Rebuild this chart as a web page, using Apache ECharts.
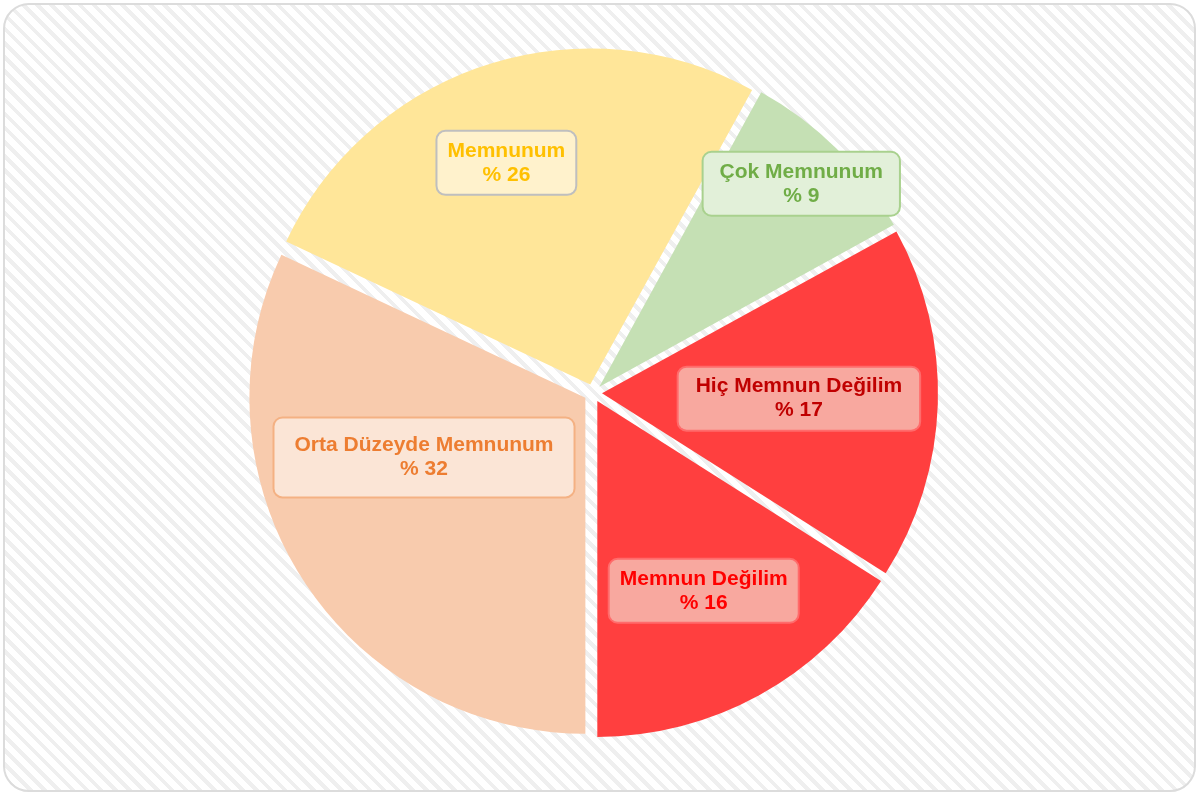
<!DOCTYPE html>
<html>
<head>
<meta charset="utf-8">
<script src="https://cdn.jsdelivr.net/npm/echarts@6/dist/echarts.min.js"></script>
<style>
html, body { margin: 0; padding: 0; background: #fff; }
#frame {
  position: absolute; left: 3px; top: 3px; width: 1189px; height: 785px;
  border: 2px solid #dcdcdc; border-radius: 26px;
  background: repeating-linear-gradient(45deg, #fff 0, #fff 6px, #efefef 6px, #efefef 10px);
}
#chart { position: absolute; left: 0; top: 0; width: 1199px; height: 795px; }
</style>
</head>
<body>
<div id="frame"></div>
<div id="chart"></div>
<script>
// chart data
var categories = ['Çok Memnunum', 'Hiç Memnun Değilim', 'Memnun Değilim', 'Orta Düzeyde Memnunum', 'Memnunum'];
var values = [9, 17, 16, 32, 26];

// styles, one entry per slice
var sliceColors = ['#c5e0b4', '#ff3f3f', '#ff3f3f', '#f8cbad', '#ffe699'];
var labelColors = ['#70ad47', '#c00000', '#ff0000', '#ed7d31', '#ffc000'];
var labelFills = ['#e2f0d9', '#f8a89f', '#f8a89f', '#fbe5d6', '#fff2cc'];
var labelBorders = ['#a9d18e', '#ff6b6b', '#ff6b6b', '#f4b183', '#bfbfbf'];
var labelPads = [[7, 16], [7, 17], [7, 10], [15, 20], [7, 10]];
var labelShift = [[81, -82], [26, 0], [24, 40], [-17, -32], [-31, -59]];

var dom = document.getElementById('chart');
var myChart = echarts.init(dom, null, {renderer: 'canvas'});

var data = [];
for (var i = 0; i < categories.length; i++) {
  data.push({
    name: categories[i],
    value: values[i],
    selected: true,
    itemStyle: {color: sliceColors[i]},
    label: {
      color: labelColors[i],
      backgroundColor: labelFills[i],
      borderColor: labelBorders[i],
      padding: labelPads[i]
    }
  });
}

var option = {
  animation: false,
  series: [{
    type: 'pie',
    center: [593, 393],
    radius: 336,
    startAngle: 61.2,
    selectedMode: 'multiple',
    selectedOffset: 9,
    data: data,
    label: {
      position: 'inside',
      formatter: '{b}\n% {c}',
      fontFamily: 'Liberation Sans, Arial, sans-serif',
      fontWeight: 'bold',
      fontSize: 21,
      lineHeight: 24,
      borderWidth: 2,
      borderRadius: 8,
      align: 'center'
    },
    labelLine: {show: false},
    labelLayout: function (params) {
      var s = labelShift[params.dataIndex];
      return {dx: s[0], dy: s[1]};
    },
    emphasis: {disabled: true}
  }]
};

if (option && typeof option === 'object') {
  myChart.setOption(option, true);
}
</script>
</body>
</html>
